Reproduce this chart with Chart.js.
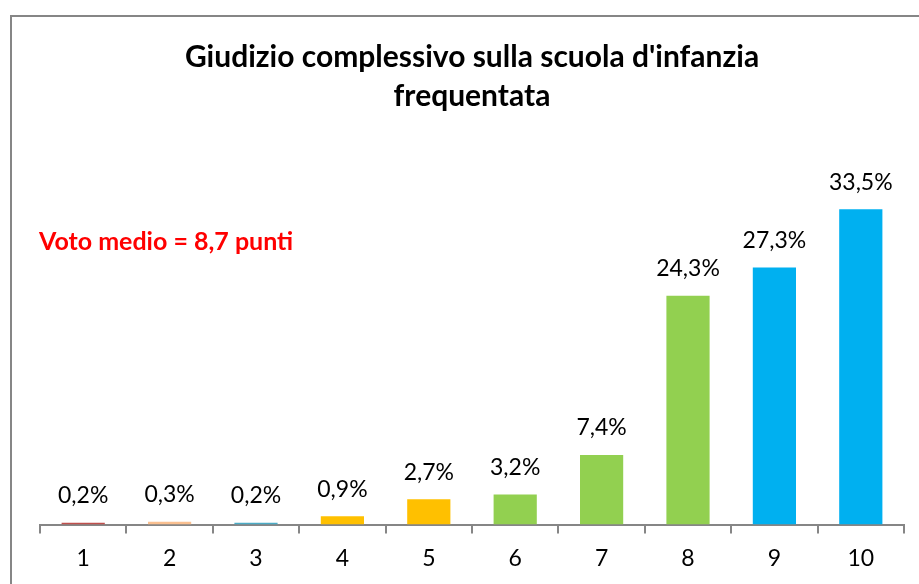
<!DOCTYPE html>
<html>
<head>
<meta charset="utf-8">
<script src="https://cdn.jsdelivr.net/npm/chart.js@4"></script>
<style>
  html, body { margin: 0; padding: 0; background: #fff; }
  #wrap { width: 919px; height: 584px; }
</style>
</head>
<body>
<div id="wrap"><canvas id="chart" width="919" height="584"></canvas></div>
<script>
// ----- Data -----
const voti = ["1", "2", "3", "4", "5", "6", "7", "8", "9", "10"];
const percentuali = [0.2, 0.3, 0.2, 0.9, 2.7, 3.2, 7.4, 24.3, 27.3, 33.5];
const barColors = ["#C0504D", "#FAC090", "#4BACC6", "#FFC000", "#FFC000",
                   "#92D050", "#92D050", "#92D050", "#00B0F0", "#00B0F0"];
const titleLines = ["Giudizio complessivo sulla scuola d'infanzia", "frequentata"];
const noteText = "Voto medio = 8,7 punti";

const fontFamily = "Lato, 'Open Sans', sans-serif";

// frame around the whole chart (Excel chart area border)
const framePlugin = {
  id: "frame",
  beforeDraw(chart) {
    const ctx = chart.ctx;
    ctx.save();
    ctx.strokeStyle = "#868686";
    ctx.lineWidth = 2;
    ctx.strokeRect(11, 16, 1000, 1000);
    ctx.restore();
  }
};

// percentage labels over the bars + the red note
const labelsPlugin = {
  id: "barLabels",
  afterDatasetsDraw(chart) {
    const ctx = chart.ctx;
    const meta = chart.getDatasetMeta(0);
    ctx.save();
    ctx.fillStyle = "#000";
    ctx.font = "23px " + fontFamily;
    ctx.textAlign = "center";
    ctx.textBaseline = "middle";
    meta.data.forEach((bar, i) => {
      const txt = percentuali[i].toFixed(1).replace(".", ",") + "%";
      ctx.fillText(txt, bar.x, bar.y - 27);
    });
    // note
    ctx.fillStyle = "#FF0000";
    ctx.font = "bold 25px " + fontFamily;
    ctx.textAlign = "left";
    ctx.textBaseline = "middle";
    ctx.fillText(noteText, 39, 242);
    ctx.restore();
  }
};

const ctx = document.getElementById("chart").getContext("2d");
new Chart(ctx, {
  type: "bar",
  data: {
    labels: voti,
    datasets: [{
      data: percentuali,
      backgroundColor: barColors,
      borderWidth: 0,
      categoryPercentage: 1.0,
      barPercentage: 0.5
    }]
  },
  options: {
    responsive: false,
    animation: false,
    layout: { padding: { left: 40, right: 15, top: 38, bottom: 0 } },
    plugins: {
      legend: { display: false },
      tooltip: { enabled: false },
      title: {
        display: true,
        text: titleLines,
        color: "#000",
        font: { family: fontFamily, size: 30, weight: "bold", lineHeight: 1.3 },
        padding: { top: 0, bottom: 32 }
      }
    },
    scales: {
      x: {
        grid: {
          display: true,
          drawOnChartArea: false,
          drawTicks: true,
          tickLength: 9,
          color: "#868686",
          lineWidth: 2
        },
        border: { display: true, color: "#868686", width: 2 },
        ticks: {
          color: "#000",
          font: { family: fontFamily, size: 23, lineHeight: 0.8 },
          padding: 16
        }
      },
      y: {
        display: false,
        min: 0,
        max: 40
      }
    }
  },
  plugins: [framePlugin, labelsPlugin]
});
</script>
</body>
</html>
